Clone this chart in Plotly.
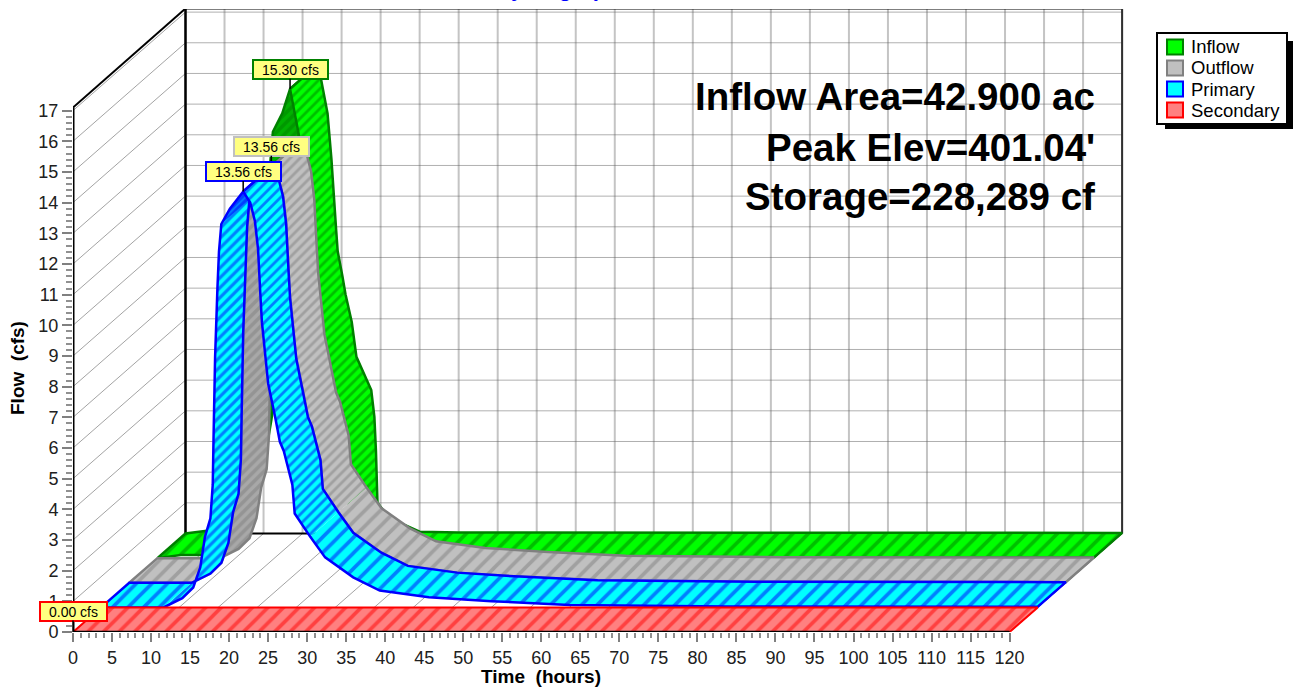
import plotly.graph_objects as go

# ---------- data ----------
hours_inflow = [0, 3, 5.8, 8, 9, 10, 11, 12, 13, 14, 14.8, 16, 17,
                17.4, 18.2, 18.7, 19.3, 19.5, 20.1, 20.5, 21.3, 21.9, 23.8, 24.2, 24.4, 24.6,
                25.5, 27, 30, 35, 45, 120]
inflow = [0, 0.1, 0.1, 0.6, 1.2, 2.2, 3.7, 5.5, 8, 11.5, 13.9, 14.5, 15.3,
          14.8, 13.7, 12.2, 9.9, 9.2, 8.4, 7.8, 6.9, 5.76, 4.68, 3.8, 2.7, 1.0,
          0.7, 0.4, 0.06, 0.03, 0.02, 0.02]
hours_routed = [0, 8, 10.4, 11.8, 12.7, 13.3, 14, 14.3, 14.4, 14.6, 14.9, 15.1, 15.4, 16.5, 18.2,
                19.1, 19.7, 20.1, 20.4, 20.6, 21, 21.4, 22.3, 22.9, 23.4, 24.5, 24.8, 26.8, 28.7,
                32.3, 35.7, 42, 50, 60, 80, 120]
outflow = [0, 0, 0.3, 0.65, 1.3, 2.3, 2.9, 4.0, 5.5, 8.15, 10.4, 11.6, 12.5, 13.0, 13.56,
           13.2, 12.6, 11.7, 10.2, 9.3, 8.3, 7.3, 6.2, 5.4, 5.1, 4.0, 3.06, 2.3, 1.63,
           0.98, 0.55, 0.33, 0.2, 0.08, 0.03, 0.02]
primary = [0, 0, 0.3, 0.65, 1.3, 2.3, 2.9, 4.0, 5.5, 8.15, 10.4, 11.6, 12.5, 13.0, 13.56,
           13.2, 12.6, 11.7, 10.2, 9.3, 8.3, 7.3, 6.2, 5.4, 5.1, 4.0, 3.06, 2.3, 1.63,
           0.98, 0.55, 0.33, 0.2, 0.08, 0.03, 0.02]
hours_secondary = [0, 120]
secondary = [0, 0]

x_ticks = list(range(0, 121, 5))
x_minor = [v for v in range(0, 121) if v % 5]
y_ticks = list(range(0, 18))
y_minor = [v / 5 for v in range(0, 86) if v % 5]
legend_names = ["Inflow", "Outflow", "Primary", "Secondary"]
notes = ["Inflow Area=42.900 ac", "Peak Elev=401.04'", "Storage=228,289 cf"]

# ---------- page geometry ----------
W, H = 1294, 687
L, R, T, B = 73, 1125, 9, 632
PX_H, PX_F = 7.805, 30.67
DX = 112.5 / PX_H      # depth of the box, in hours
DY = 98.5 / PX_F       # depth of the box, in cfs
FONT = "Liberation Sans, Arial, sans-serif"


def px(x):
    return (x - L) / (R - L)


def py(y):
    return (B - y) / (B - T)


def proj(ts, fs, d):
    return [t + d * DX for t in ts], [f + d * DY for f in fs]


fig = go.Figure()


def lines(xs, ys, color, width, dash=None):
    fig.add_trace(go.Scatter(x=xs, y=ys, mode="lines", cliponaxis=False, hoverinfo="skip",
                             showlegend=False, line=dict(color=color, width=width, dash=dash)))


def poly(ts, fs, d0, d1, bg, fg, size, sol):
    xa, ya = proj(ts, fs, d0)
    xb, yb = proj(ts, fs, d1)
    fig.add_trace(go.Scatter(
        x=xa + xb[::-1] + xa[:1], y=ya + yb[::-1] + ya[:1], mode="lines", fill="toself",
        cliponaxis=False, hoverinfo="skip", showlegend=False, fillcolor=bg,
        fillpattern=dict(shape="/", bgcolor=bg, fgcolor=fg, size=size, solidity=sol),
        line=dict(color=bg, width=0)))


def outline(ts, fs, d0, d1, color, width):
    xa, ya = proj(ts, fs, d0)
    xb, yb = proj(ts, fs, d1)
    lines(xa + xb[::-1] + xa[:1], ya + yb[::-1] + ya[:1], color, width)


def sep(a, b):
    """None separated straight lines from point pairs"""
    xs, ys = [], []
    for (p, q) in zip(a, b):
        xs += [p[0], q[0], None]
        ys += [p[1], q[1], None]
    return xs, ys


# ---------- box: walls and floor ----------
TOP = (534 - 9) / PX_F
xs, ys = sep([(t + DX, DY) for t in x_ticks], [(t + DX, DY + TOP) for t in x_ticks])
lines(xs, ys, "#c4c4c4", 2)
xs, ys = sep([(DX, f + DY) for f in y_ticks], [(120 + DX, f + DY) for f in y_ticks])
lines(xs, ys, "#606060", 1, "1px,1px")
xs, ys = sep([(0, f) for f in y_ticks], [(DX, f + DY) for f in y_ticks])
lines(xs, ys, "#8c8c8c", 0.8)
xs, ys = sep([(t, 0) for t in x_ticks], [(t + DX, DY) for t in x_ticks])
lines(xs, ys, "#8c8c8c", 0.8)
lines([DX, DX], [DY, DY + TOP], "#000000", 2.5)
lines([DX, 120 + DX], [DY + TOP, DY + TOP], "#000000", 2)
lines([120 + DX, 120 + DX], [DY, DY + TOP], "#303030", 2)
lines([DX, 120 + DX], [DY, DY], "#000000", 2)
lines([0, DX], [17.1, DY + TOP], "#000000", 2)
lines([120, 120 + DX], [0, DY], "#303030", 1)


# ---------- ribbons, back to front ----------
def ribbon(ts, fs, d0, d1, start, tail, st):
    pk = fs.index(max(fs))
    s = ts.index(start)
    e = ts.index(tail)
    bg, fg = st["bg"], st["fg"]
    poly(ts[:s + 1], fs[:s + 1], d0, d1, bg, fg, 11, 0.33)
    poly(ts[s:pk + 1], fs[s:pk + 1], d0, d1, st["rbg"], st["rfg"], 7, st["rsol"])
    if st.get("tip") is not None:
        k = ts.index(st["tip"])
        poly(ts[k:pk + 1], fs[k:pk + 1], d0, d1, st["tbg"], st["tfg"], 6, st["tsol"])
    outline(ts[:pk + 1], fs[:pk + 1], d0, d1, st["line"], st["w"])
    poly(ts[pk:e + 1], fs[pk:e + 1], d0, d1, bg, fg, 7, 0.4)
    poly(ts[e:], fs[e:], d0, d1, bg, fg, 11, 0.33)
    outline(ts[pk:], fs[pk:], d0, d1, st["line"], st["w"])


ribbon(hours_inflow, inflow, 0.75, 1.0, 5.8, 25.5,
       dict(bg="#00ff00", fg="#008000", rbg="#00b000", rfg="#008000", rsol=0.5,
            line="#008000", w=2.5))
ribbon(hours_routed, outflow, 0.5, 0.75, 8, 26.8,
       dict(bg="#c0c0c0", fg="#808080", rbg="#a8a8a8", rfg="#808080", rsol=0.5,
            line="#808080", w=2.5))
ribbon(hours_routed, primary, 0.25, 0.5, 8, 26.8,
       dict(bg="#00ffff", fg="#0000ff", rbg="#00ffff", rfg="#0000ff", rsol=0.45,
            tip=15.4, tbg="#0080ff", tfg="#0000ff", tsol=0.7, line="#0000ff", w=2.5))
poly(hours_secondary, secondary, 0.0, 0.25, "#ff8080", "#ff0000", 11, 0.33)
outline(hours_secondary, secondary, 0.0, 0.25, "#ff0000", 2)

lines([0, 0], [0, 17.1], "#000000", 3)
lines([0, 120], [0, 0], "#000000", 2.5)

# ---------- overlay ----------
ann = []
for i, t in enumerate(notes):
    ann.append(dict(xref="paper", yref="paper", x=px(1097), y=py(97 + 50 * i), text="<b>%s</b>" % t,
                    showarrow=False, xanchor="right", yanchor="middle",
                    font=dict(family=FONT, size=38.5, color="#000000")))
ann.append(dict(xref="paper", yref="paper", x=px(557), y=py(2.5), text="<b>Hydrograph</b>",
                showarrow=False, xanchor="center", yanchor="bottom",
                font=dict(family=FONT, size=22, color="#0000ff")))
ann.append(dict(xref="paper", yref="paper", x=px(541), y=py(676), text="<b>Time&nbsp; (hours)</b>",
                showarrow=False, xanchor="center", yanchor="middle",
                font=dict(family=FONT, size=19, color="#000000")))
ann.append(dict(xref="paper", yref="paper", x=px(17), y=py(368), text="<b>Flow&nbsp; (cfs)</b>", textangle=-90,
                showarrow=False, xanchor="center", yanchor="middle",
                font=dict(family=FONT, size=19, color="#000000")))


def peak_label(ts, fs, d, color, ay, width):
    k = fs.index(max(fs))
    x, y = proj([ts[k]], [fs[k]], d)
    ann.append(dict(x=x[0], y=y[0], text="%.2f cfs" % fs[k], showarrow=True, arrowhead=0, arrowwidth=1.5,
                    arrowcolor="#000000", ax=0, ay=ay, bgcolor="#ffff80", bordercolor=color, borderwidth=2,
                    borderpad=2, width=width, height=13, align="center",
                    font=dict(family=FONT, size=14, color="#000000")))


peak_label(hours_inflow, inflow, 0.75, "#008000", -19.7, 69)
peak_label(hours_routed, outflow, 0.5, "#c0c0c0", -20.5, 69)
peak_label(hours_routed, primary, 0.25, "#0000ff", -20, 69)
peak_label(hours_secondary, secondary, 0.0, "#ff0000", -21, 61)

# legend
swatches = [("#00ff00", "#008000"), ("#c0c0c0", "#808080"), ("#00ffff", "#0000ff"), ("#ff8080", "#ff0000")]
shapes = [
    dict(type="rect", xref="paper", yref="paper", x0=px(1165), x1=px(1293), y0=py(41), y1=py(129),
         fillcolor="#000000", line=dict(width=0)),
    dict(type="rect", xref="paper", yref="paper", x0=px(1157), x1=px(1287), y0=py(33), y1=py(124),
         fillcolor="#ffffff", line=dict(color="#000000", width=2)),
]
for i, (name, (bg, fg)) in enumerate(zip(legend_names, swatches)):
    yc = 47 + 21 * i
    shapes.append(dict(type="rect", xref="paper", yref="paper", x0=px(1167), x1=px(1183),
                       y0=py(yc - 7.5), y1=py(yc + 7.5), fillcolor=bg, line=dict(color=fg, width=2)))
    ann.append(dict(xref="paper", yref="paper", x=px(1189), y=py(yc), text=name, showarrow=False,
                    xanchor="left", yanchor="middle", font=dict(family=FONT, size=18.5, color="#000000")))

tick_font = dict(family=FONT, size=18, color="#202020")
fig.update_layout(
    width=W, height=H, margin=dict(l=L, r=W - R, t=T, b=H - B),
    paper_bgcolor="#ffffff", plot_bgcolor="#ffffff", showlegend=False,
    annotations=ann, shapes=shapes,
    xaxis=dict(range=[0, (R - L) / PX_H], tickmode="array", tickvals=x_ticks, ticks="outside", ticklen=9,
               tickwidth=1.5, tickcolor="#808080", showgrid=False, zeroline=False, showline=False,
               tickfont=tick_font, tickangle=0,
               minor=dict(tickmode="array", tickvals=x_minor, ticks="outside", ticklen=5,
                          tickwidth=1.5, tickcolor="#909090", showgrid=False)),
    yaxis=dict(range=[0, (B - T) / PX_F], tickmode="array", tickvals=y_ticks, ticks="outside", ticklen=10,
               tickwidth=1.5, tickcolor="#808080", showgrid=False, zeroline=False, showline=False,
               tickfont=tick_font,
               minor=dict(tickmode="array", tickvals=y_minor, ticks="outside", ticklen=6,
                          tickwidth=1.5, tickcolor="#909090", showgrid=False)),
)

fig.write_html("out.html", config=dict(displayModeBar=False),
               post_script="document.body.style.margin='0';document.body.style.overflow='hidden';")
